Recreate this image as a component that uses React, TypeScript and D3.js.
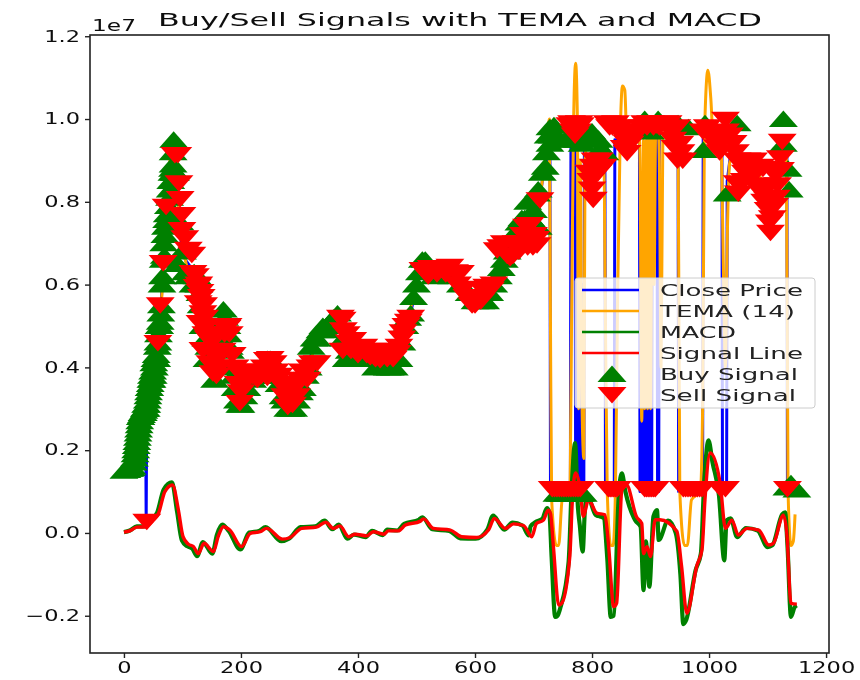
import React, { useRef, useEffect } from 'react';
import * as d3 from 'd3';

const closeIdx = [0,6,12,18,24,30,36,37,38,39,44,50,56,62,66,70,75,80,85,90,94,98,105,115,125,135,145,155,165,172,180,190,200,215,230,245,260,270,282,295,310,325,340,352,365,375,385,400,420,440,460,475,490,500,512,525,545,560,575,590,605,620,635,650,665,680,695,705,715,722,728,729,763,764,771,772,774,775,777,778,780,781,783,784,786,787,800,815,822,823,838,839,860,875,881,882,884,885,887,888,890,891,893,894,896,897,899,900,902,903,911,912,914,915,947,948,989,990,1022,1023,1030,1031,1040,1048,1060,1076,1090,1100,1105,1115,1125,1133,1134,1140,1150];
const closeVal = [.15,.155,.165,.19,.26,.295,.30,.30,.03,.31,.36,.42,.45,.51,.62,.72,.78,.85,.95,.88,.78,.70,.66,.64,.58,.50,.43,.42,.50,.53,.47,.38,.32,.36,.38,.43,.40,.35,.31,.34,.39,.45,.49,.51,.53,.50,.45,.44,.43,.41,.42,.47,.53,.60,.66,.63,.63,.64,.61,.57,.55,.58,.64,.68,.70,.76,.72,.75,.85,.90,.98,.10,.10,.98,.98,.10,.10,.6,.6,.10,.10,.6,.6,.10,.10,.98,.97,.93,.92,.10,.10,.95,.94,.98,.98,.10,.10,.7,.7,.10,.10,.7,.7,.10,.10,.7,.7,.10,.10,.98,1.0,.10,.10,.99,.97,.10,.10,.98,.97,.10,.10,.85,.95,.90,.88,.88,.85,.78,.72,.82,.95,.95,.10,.12,.11];

const temaIdx = [0,12,24,36,50,62,70,85,94,105,125,145,155,172,190,200,230,245,270,282,310,340,365,385,420,440,475,500,512,545,560,590,605,635,665,680,695,715,722,727,729,731,739,743,749,762,765,768,772,775,777,780,783,786,788,795,810,820,823,826,832,836,840,844,848,852,856,860,870,880,882,885,888,890,893,895,898,900,903,906,909,912,915,918,921,925,940,947,950,958,963,970,985,989,992,998,1003,1008,1020,1025,1028,1031,1036,1048,1060,1076,1090,1100,1105,1115,1125,1132,1135,1140,1144,1147];
const temaVal = [.15,.165,.26,.30,.42,.51,.72,.96,.78,.66,.58,.43,.42,.53,.38,.32,.38,.43,.35,.31,.39,.49,.53,.45,.43,.41,.47,.60,.66,.63,.64,.57,.55,.64,.70,.76,.72,.85,.92,1.0,.5,.08,-.03,-.03,.08,.1,.5,.95,1.135,1.0,.3,.9,.3,.18,.9,.97,.93,.92,.5,.1,-.03,-.03,.1,.6,.95,1.08,1.07,.93,.96,.98,.9,.27,.95,.3,.95,.3,1.0,.3,1.0,.6,1.0,1.01,.9,.4,.95,.97,.98,.97,.1,-.03,-.03,.08,.1,.3,.95,1.118,1.05,.93,.95,.6,.4,.7,.9,.9,.88,.88,.85,.78,.72,.82,.95,.96,.1,-.03,-.02,.045];

const macdIdx = [0,10,22,36,48,57,68,82,91,99,108,117,125,135,151,159,168,179,199,214,231,242,269,282,302,327,343,356,367,382,393,413,424,442,450,467,479,504,510,527,556,575,601,621,631,650,664,681,692,695,703,715,723,727,731,737,741,746,760,765,771,776,779,784,788,792,806,820,826,832,837,846,851,857,874,883,888,892,898,905,911,914,930,943,951,956,961,977,986,991,999,1006,1017,1026,1030,1037,1048,1063,1083,1100,1108,1125,1130,1134,1140,1146,1150];
const macdVal = [.002,.006,.016,.016,.034,.05,.105,.122,.05,-.018,-.032,-.038,-.056,-.022,-.05,-.004,.02,.005,-.04,.001,.005,.014,-.02,-.014,.014,.016,.03,.009,.02,-.014,-.004,-.01,.005,-.005,.008,.006,.022,.032,.038,.009,.005,-.013,-.014,.008,.042,.008,.025,.018,-.006,.016,.026,.034,.06,.05,-.06,-.203,-.2,-.18,-.07,.10,.217,.06,.02,-.045,.06,.09,.044,.036,-.06,-.203,-.2,.10,.144,.10,.03,.015,-.138,-.02,-.13,.04,.055,-.017,.03,.0,-.10,-.22,-.21,-.09,-.05,.10,.224,.17,.09,-.066,.03,.035,-.01,.012,.006,-.034,-.03,.045,.05,-.03,-.203,-.18,-.175];

const signalIdx = [0,10,22,36,50,59,70,83,93,101,110,119,127,137,153,161,170,181,201,216,233,244,271,284,304,329,345,358,369,384,395,415,426,444,452,469,481,506,512,529,558,577,603,623,633,652,666,683,697,705,717,725,729,734,743,748,762,767,772,780,785,794,808,822,828,837,842,851,859,876,885,888,894,900,908,916,945,953,962,979,988,993,1002,1019,1028,1039,1050,1065,1085,1102,1110,1127,1133,1140,1150];
const signalVal = [.002,.005,.014,.015,.031,.047,.1,.116,.056,-.009,-.027,-.033,-.05,-.025,-.045,-.009,.015,.007,-.033,-.001,.003,.011,-.015,-.011,.011,.014,.026,.011,.017,-.009,-.003,-.007,.003,-.003,.005,.005,.019,.028,.034,.011,.007,-.009,-.011,.007,.035,.011,.022,.018,-.009,.023,.031,.055,.047,-.033,-.174,-.17,-.057,.096,.145,.104,.04,.08,.048,.044,-.025,-.178,-.17,.104,.116,.039,.023,-.05,-.033,-.057,.032,.032,.004,-.08,-.194,-.08,-.04,.08,.193,.12,.011,.031,-.005,.011,.007,-.029,-.025,.043,-.002,-.17,-.172];

// buy signals: rise, first fall, trough, second rise, plateau, top cluster, low cluster
const buyIdx = [0,5,10,14,18,20,22,24,26,28,30,32,34,36,38,40,42,44,46,48,50,52,54,56,58,60,62,64,65,66,68,70,73,76,79,82,84,85,84,86,92,96,100,105,110,118,125,130,135,140,145,150,160,170,176,180,185,190,198,205,220,235,250,262,272,285,295,305,315,320,330,340,352,365,375,385,400,420,440,450,462,470,480,490,500,510,520,530,545,560,575,590,610,625,640,650,660,670,680,695,708,708,720,728,728,745,760,775,790,800,812,822,890,900,913,947,965,990,993,1031,1048,1127,1127,1135,1137,745,755,765,775,785,1133,1140,1150,
  8,12,16,19,21,23,25,27,29,31,33,35,37,39,41,43,45,47,49,51,53,55,57,59,61,63,67,69,71,74,78,80,83,88,120,128,132,142,155,165,172,178,182,188,194,200,210,240,245,255,265,275,280,290,300,310,325,335,345,358,370,380,395,410,430,455,475,485,495,505,515,600,618,632,645,655,665,675,685,690,700,705,715,722,725,732,735,765,770,783,795,805,815,740,750,770,780];
const buyVal = [.15,.152,.155,.16,.18,.2,.22,.24,.26,.28,.285,.29,.295,.3,.3,.32,.34,.35,.37,.37,.38,.4,.42,.42,.46,.5,.51,.55,.6,.62,.7,.72,.756,.79,.83,.87,.89,.95,.92,.87,.65,.75,.68,.63,.62,.6,.62,.58,.5,.47,.45,.43,.47,.54,.5,.45,.4,.35,.31,.33,.37,.38,.42,.38,.33,.3,.32,.35,.4,.45,.47,.5,.51,.53,.47,.44,.42,.43,.41,.4,.4,.42,.5,.53,.6,.66,.64,.62,.63,.62,.6,.58,.56,.58,.62,.66,.7,.72,.76,.76,.83,.74,.885,.98,.94,.95,.96,.95,.97,.97,.95,.92,1.0,.97,1.0,.99,.98,.925,.99,.82,.99,1.0,.94,.88,.83,.095,.095,.095,.095,.095,.11,.12,.105,
  .155,.157,.17,.19,.21,.23,.25,.27,.28,.29,.29,.3,.31,.31,.33,.35,.36,.38,.39,.41,.42,.43,.45,.48,.5,.53,.66,.67,.74,.77,.81,.85,.88,.87,.63,.6,.55,.42,.37,.5,.52,.48,.44,.38,.32,.31,.35,.4,.42,.41,.36,.32,.3,.3,.34,.38,.47,.49,.49,.52,.5,.42,.42,.42,.4,.4,.46,.52,.57,.63,.66,.56,.56,.6,.64,.68,.72,.75,.76,.8,.78,.82,.87,.92,.96,.96,.985,.95,.97,.94,.96,.95,.93,.095,.095,.095,.095];

// sell signals: same order, then the low band around 0.1
const sellIdx = [39,58,62,67,72,87,92,94,96,99,99,104,110,116,118,125,127,130,130,135,135,140,147,152,160,176,185,198,198,210,225,245,245,262,278,280,295,313,330,373,374,375,391,405,421,438,450,467,477,486,511,525,540,557,575,586,600,626,638,660,677,694,699,706,711,771,771,800,802,802,819,826,848,860,860,880,894,910,922,945,942,946,997,1014,1028,1028,1041,1048,1048,1050,1062,1076,1088,1088,1100,1101,1103,1105,1117,1122,1122,1125,732,740,748,756,764,772,780,828,834,840,890,896,902,908,956,964,972,980,988,1028,1134,
  122,128,132,136,138,141,144,148,150,155,158,163,168,172,180,170,178,190,195,200,205,212,220,228,235,240,250,255,258,265,270,275,283,288,292,300,305,318,322,370,380,385,388,395,400,410,415,425,430,445,455,460,470,475,482,490,515,530,520,535,545,550,565,570,580,590,595,605,610,615,620,632,644,650,655,665,670,675,683,688,700,690,704,765,775,780,762,768,778,805,810,795,798,812,830,835,840,845,852,855,865,870,875,885,890,900,905,915,930,935,938,950,955,952,990,1003,1008,1018,1022,1035,1045,1055,1060,1065,1070,1080,1085,1092,1095,1098,1108,1112,1115,1110,1118,736,744,752,760,768,776,831,837,843,893,899,905,960,968,976,984,1020];
const sellVal = [.027,.459,.55,.652,.788,.913,.913,.845,.807,.768,.732,.712,.684,.672,.628,.594,.555,.582,.507,.531,.442,.48,.41,.386,.42,.495,.43,.386,.314,.39,.39,.418,.375,.37,.345,.305,.33,.37,.41,.515,.44,.49,.466,.445,.425,.418,.42,.435,.485,.51,.635,.64,.635,.643,.628,.57,.55,.587,.683,.664,.695,.744,.69,.695,.804,.985,.96,.83,.885,.805,.885,.99,.98,.942,.918,.97,.98,.985,.99,.98,.93,.90,.98,.932,.998,.97,.942,.90,.845,.82,.87,.90,.885,.84,.805,.78,.75,.725,.84,.905,.877,.945,.106,.106,.106,.106,.106,.106,.106,.106,.106,.106,.106,.106,.106,.106,.106,.106,.106,.106,.106,.106,.106,
  .62,.6,.57,.55,.52,.5,.47,.44,.46,.40,.38,.40,.44,.48,.48,.5,.50,.40,.36,.34,.36,.385,.38,.37,.38,.40,.42,.41,.39,.38,.36,.33,.32,.31,.35,.37,.39,.40,.41,.52,.48,.46,.44,.44,.43,.45,.43,.44,.42,.44,.43,.42,.45,.47,.5,.52,.63,.64,.62,.625,.64,.625,.63,.60,.59,.565,.55,.565,.56,.585,.595,.60,.69,.70,.67,.67,.70,.68,.72,.74,.72,.69,.71,.99,.97,.985,.985,.97,.99,.90,.87,.87,.85,.9,.98,.98,.99,.97,.96,.93,.94,.96,.97,.98,.99,.99,.98,.98,.99,.97,.95,.94,.9,.92,.97,.96,.95,.92,.95,.96,.92,.89,.85,.90,.88,.87,.83,.88,.80,.83,.76,.79,.81,.87,.87,.106,.106,.106,.106,.106,.106,.106,.106,.106,.106,.106,.106,.106,.106,.106,.106,.106];

const yTicks = [-0.2, 0, 0.2, 0.4, 0.6, 0.8, 1.0, 1.2];
const xTicks = [0, 200, 400, 600, 800, 1000, 1200];
const legendLabels = ['Close Price', 'TEMA (14)', 'MACD', 'Signal Line', 'Buy Signal', 'Sell Signal'];
const legendWidths = [143, 135, 76, 143, 138, 136];
const lineColors = ['blue', 'orange', 'green', 'red'];
const lineWidths = [3, 3, 4.2, 3.4];

const font = '"DejaVu Sans", sans-serif';
const triUp = 'M0,-8.5L14.5,8L-14.5,8Z';
const triDown = 'M0,8.5L14.5,-8L-14.5,-8Z';

const App: React.FC = () => {
  const ref = useRef<SVGSVGElement | null>(null);

  useEffect(() => {
    if (!ref.current) return;
    const svg = d3.select(ref.current);
    svg.selectAll('*').remove();

    const left = 90, right = 829, top = 35, bottom = 653;

    const x = d3.scaleLinear().domain([-58, 1205]).range([left, right]);
    const y = d3.scaleLinear().domain([-0.29, 1.203]).range([bottom, top]);

    // the reference is a slightly blurry upscaled image
    svg.append('defs').append('filter')
      .attr('id', 'soft')
      .append('feGaussianBlur').attr('stdDeviation', 0.5);

    const root = svg.append('g').attr('filter', 'url(#soft)');

    const line = d3.line<[number, number]>()
      .x(d => x(d[0]))
      .y(d => y(d[1]));
    const smooth = d3.line<[number, number]>()
      .x(d => x(d[0]))
      .y(d => y(d[1]))
      .curve(d3.curveMonotoneX);

    const series = [
      d3.zip(closeIdx, closeVal),
      d3.zip(temaIdx, temaVal),
      d3.zip(macdIdx, macdVal),
      d3.zip(signalIdx, signalVal),
    ];

    root.append('g')
      .selectAll('path')
      .data(series)
      .join('path')
        .attr('fill', 'none')
        .attr('stroke', (_, i) => lineColors[i])
        .attr('stroke-width', (_, i) => lineWidths[i])
        .attr('stroke-linejoin', 'round')
        .attr('d', (d, i) => (i === 0 ? line : smooth)(d as [number, number][]));

    root.append('g')
      .selectAll('path')
      .data(d3.zip(buyIdx, buyVal))
      .join('path')
        .attr('fill', 'green')
        .attr('d', triUp)
        .attr('transform', d => `translate(${x(d[0])},${y(d[1])})`);

    root.append('g')
      .selectAll('path')
      .data(d3.zip(sellIdx, sellVal))
      .join('path')
        .attr('fill', 'red')
        .attr('d', triDown)
        .attr('transform', d => `translate(${x(d[0])},${y(d[1])})`);

    // frame
    root.append('rect')
      .attr('x', left).attr('y', top)
      .attr('width', right - left).attr('height', bottom - top)
      .attr('fill', 'none').attr('stroke', '#222').attr('stroke-width', 1.6);

    const stretch = function (this: any) {
      d3.select(this)
        .attr('textLength', this.getComputedTextLength() * 1.5)
        .attr('lengthAdjust', 'spacingAndGlyphs');
    };

    root.append('g')
      .attr('transform', `translate(${left},0)`)
      .call(d3.axisLeft(y).tickValues(yTicks).tickFormat(d3.format('.1f') as any).tickSize(5).tickPadding(5))
      .call(g => g.select('.domain').remove())
      .call(g => g.selectAll('.tick line').attr('stroke', '#222').attr('stroke-width', 1.4))
      .call(g => g.selectAll('text').attr('fill', '#111').attr('font-family', font).attr('font-size', 15).each(stretch));

    root.append('g')
      .attr('transform', `translate(0,${bottom})`)
      .call(d3.axisBottom(x).tickValues(xTicks).tickFormat(d3.format('d') as any).tickSize(5).tickPadding(4))
      .call(g => g.select('.domain').remove())
      .call(g => g.selectAll('.tick line').attr('stroke', '#222').attr('stroke-width', 1.4))
      .call(g => g.selectAll('text').attr('fill', '#111').attr('font-family', font).attr('font-size', 15).each(stretch));

    root.append('text')
      .attr('x', 92).attr('y', 31)
      .attr('font-family', font).attr('font-size', 15).attr('fill', '#111')
      .attr('textLength', 44).attr('lengthAdjust', 'spacingAndGlyphs')
      .text('1e7');

    root.append('text')
      .attr('x', 158).attr('y', 26)
      .attr('font-family', font).attr('font-size', 18).attr('fill', '#111')
      .attr('textLength', 604).attr('lengthAdjust', 'spacingAndGlyphs')
      .text('Buy/Sell Signals with TEMA and MACD');

    // legend
    const legend = root.append('g');
    legend.append('rect')
      .attr('x', 575).attr('y', 278).attr('width', 240).attr('height', 130)
      .attr('rx', 3)
      .attr('fill', 'white').attr('fill-opacity', 0.8)
      .attr('stroke', '#ccc').attr('stroke-width', 1);

    const rowY = d3.scaleLinear().domain([0, 5]).range([290, 395]);

    legend.selectAll('line')
      .data(lineColors)
      .join('line')
        .attr('x1', 582).attr('x2', 639)
        .attr('y1', (_, i) => rowY(i)).attr('y2', (_, i) => rowY(i))
        .attr('stroke', d => d).attr('stroke-width', 2.4);

    legend.append('path').attr('d', triUp).attr('fill', 'green')
      .attr('transform', `translate(612,${rowY(4)})`);
    legend.append('path').attr('d', triDown).attr('fill', 'red')
      .attr('transform', `translate(612,${rowY(5)})`);

    legend.selectAll('text')
      .data(legendLabels)
      .join('text')
        .attr('x', 660)
        .attr('y', (_, i) => rowY(i) + 5.5)
        .attr('font-family', font).attr('font-size', 15).attr('fill', '#222')
        .attr('textLength', (_, i) => legendWidths[i]).attr('lengthAdjust', 'spacingAndGlyphs')
        .text(d => d);
  }, []);

  return (
    <svg
      ref={ref}
      width={860}
      height={680}
      style={{ position: 'absolute', left: 0, top: 0, background: 'white' }}
    />
  );
};

export default App;
